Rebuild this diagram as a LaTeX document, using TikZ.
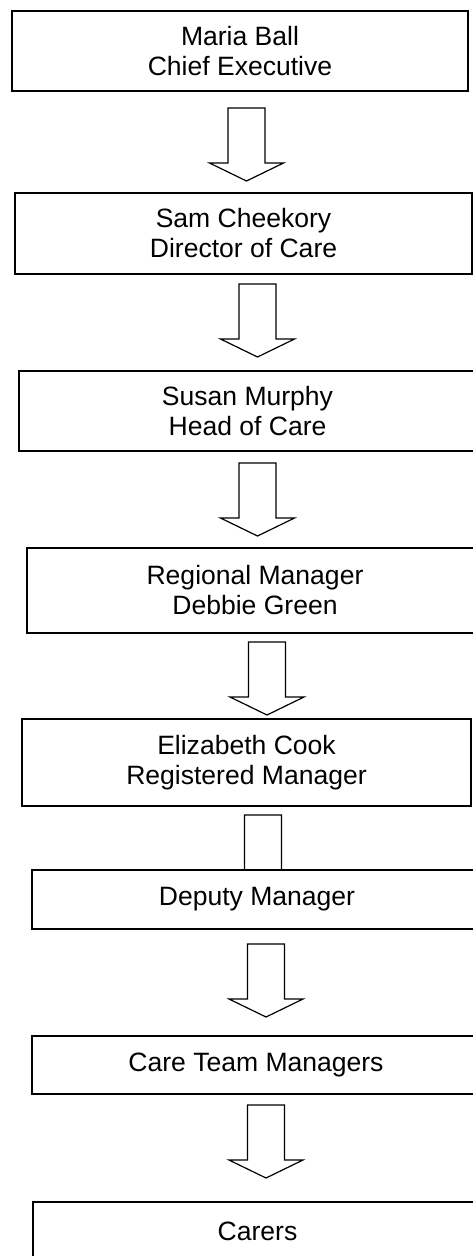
\documentclass[tikz,border=0pt]{standalone}
\usepackage{fontspec}
\setmainfont{Liberation Sans}
\usetikzlibrary{positioning}

\tikzset{
	post/.style={draw, fill=white, line width=1.2pt, align=center, inner sep=0pt,
		font=\fontsize{19.9}{22.5}\selectfont},
	bigarrow/.pic={
		\draw[line width=.9pt, fill=white, line join=miter]
			(-18.5,0) -- (18.5,0) -- (18.5,55) -- (37,55) -- (0,73)
			-- (-37,55) -- (-18.5,55) -- cycle;
	}
}

\begin{document}
\begin{tikzpicture}[x=.75pt, y=-.75pt]
	\path[use as bounding box] (0,0) rectangle (473,1256);
	\clip (0,0) rectangle (473,1256);

	\pic (a1) at (246.5,108) {bigarrow};
	\pic (a2) at (257.5,284) {bigarrow};
	\pic (a3) at (257.5,463) {bigarrow};
	\pic (a4) at (267,642) {bigarrow};
	\pic (a5) at (263,815) {bigarrow};
	\pic (a6) at (266,944) {bigarrow};
	\pic (a7) at (266,1105) {bigarrow};

	\node[post, minimum width=342pt, minimum height=60pt] (ceo) at (240,51) {Maria Ball\\Chief Executive};
	\node[post, minimum width=342.75pt, minimum height=60.75pt] (dir) at (243.5,233.5) {Sam Cheekory\\Director of Care};
	\node[post, minimum width=342.75pt, minimum height=60pt] (head) at (247.5,411) {Susan Murphy\\Head of Care};
	\node[post, minimum width=342pt, minimum height=63.75pt] (reg) at (255,590.5) {Regional Manager\\Debbie Green};
	\node[post, minimum width=336.75pt, minimum height=65.25pt] (rm) at (246.5,762.5) {Elizabeth Cook\\Registered Manager};
	\node[post, minimum width=337.5pt, minimum height=44.25pt] (dep) at (257,899.5) {Deputy Manager};
	\node[post, minimum width=336pt, minimum height=43.5pt] (ctm) at (256,1065) {Care Team Managers};
	\node[post, minimum width=336.75pt, minimum height=43.5pt] (car) at (257.5,1231) {Carers};
\end{tikzpicture}
\end{document}
